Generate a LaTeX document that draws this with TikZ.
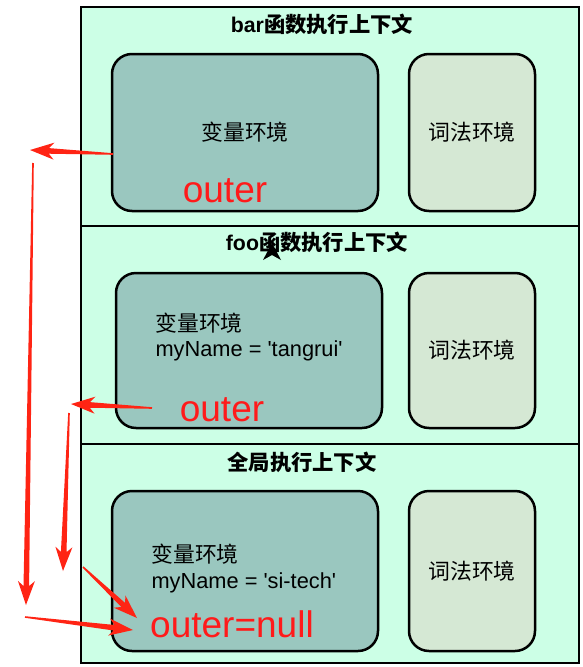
\documentclass[tikz,border=0pt]{standalone}
\usepackage{fontspec}
\setmainfont{Liberation Sans}
\newfontfamily\cjk{Noto Sans CJK SC}
\usetikzlibrary{positioning,calc}

\definecolor{mint}{HTML}{CCFFE6}
\definecolor{varenv}{HTML}{9AC7BF}
\definecolor{lexenv}{HTML}{D5E8D4}
\definecolor{outred}{HTML}{FF1A1A}
\definecolor{arrred}{HTML}{FF2414}

% tapered red arrow from #1 (tail) to #2 (tip)
\newcommand{\redarrow}[2]{%
  \fill[arrred] ($(#1)!0.8pt!90:(#2)$)
    -- ($($(#2)!19pt!(#1)$)!2.8pt!-90:(#1)$)
    -- ($($(#2)!24pt!(#1)$)!8.5pt!-90:(#1)$)
    -- (#2)
    -- ($($(#2)!24pt!(#1)$)!8.5pt!90:(#1)$)
    -- ($($(#2)!19pt!(#1)$)!2.8pt!90:(#1)$)
    -- ($(#1)!0.8pt!-90:(#2)$) -- cycle;}
\newcommand{\sq}{\textquotesingle}

\begin{document}
\begin{tikzpicture}[x=1pt,y=-1pt,
  ctx/.style={draw,line width=2pt,fill=mint,minimum width=498pt,inner sep=0pt},
  env/.style={draw,line width=2.5pt,rounded corners=20pt,minimum height=157pt,inner sep=0pt},
  venv/.style={env,fill=varenv,minimum width=266pt},
  lenv/.style={env,fill=lexenv,minimum width=126pt},
  title/.style={font=\fontsize{21.3}{24}\selectfont\bfseries},
  body/.style={font=\fontsize{21.8}{25}\selectfont,align=left},
  outer/.style={text=outred,font=\fontsize{37}{40}\selectfont}]
  \useasboundingbox (0,0) rectangle (582,667);
  % the three execution contexts
  \node[ctx,minimum height=219pt] (barctx)  at (330,116.5) {};
  \node[ctx,minimum height=218pt] (fooctx)  at (330,335)   {};
  \node[ctx,minimum height=219pt] (globctx) at (330,553.5) {};
  \node[title] (bartitle)  at (322,24)  {bar{\cjk 函数执行上下文}};
  \node[title] (footitle)  at (317,242) {foo{\cjk 函数执行上下文}};
  \node[title] (globtitle) at (302,462) {{\cjk 全局执行上下文}};
  % variable / lexical environments
  \node[venv] (barvar)  at (245,132.5) {\fontsize{21.8}{25}\selectfont\cjk 变量环境};
  \node[lenv] (barlex)  at (472,132.5) {\fontsize{21.8}{25}\selectfont\cjk 词法环境};
  \node[venv,minimum height=155pt] (foovar) at (249,350.5) {};
  \node[lenv,minimum height=155pt] (foolex) at (472,350.5) {\fontsize{21.8}{25}\selectfont\cjk 词法环境};
  \node[venv,minimum height=160pt] (globvar) at (245,571) {};
  \node[lenv,minimum height=160pt] (globlex) at (472,571) {\fontsize{21.8}{25}\selectfont\cjk 词法环境};
  \node[body,anchor=west] (footxt)  at (152,337.5) {{\cjk 变量环境}\\myName = \sq tangrui\sq};
  \node[body,anchor=west] (globtxt) at (148,568.5) {{\cjk 变量环境}\\myName = \sq si-tech\sq};
  \node[outer] (barout)  at (225,191) {outer};
  \node[outer] (fooout)  at (222,410) {outer};
  \node[outer] (globout) at (232,624) {outer=null};
  % stray black arrowhead
  \fill (272,243) -- (281,260) -- (272,255) -- (263,260) -- cycle;
  % outer chain
  \coordinate (t1) at (113,154); \coordinate (h1) at (30,150);
  \coordinate (t2) at (33,163);  \coordinate (h2) at (26,605);
  \coordinate (t3) at (152,408); \coordinate (h3) at (71,404);
  \coordinate (t4) at (69,413);  \coordinate (h4) at (63,571);
  \coordinate (t5) at (83,567);  \coordinate (h5) at (137,618);
  \coordinate (t6) at (25,617);  \coordinate (h6) at (133,630);
  \redarrow{t1}{h1}
  \redarrow{t2}{h2}
  \redarrow{t3}{h3}
  \redarrow{t4}{h4}
  \redarrow{t5}{h5}
  \redarrow{t6}{h6}
\end{tikzpicture}
\end{document}
